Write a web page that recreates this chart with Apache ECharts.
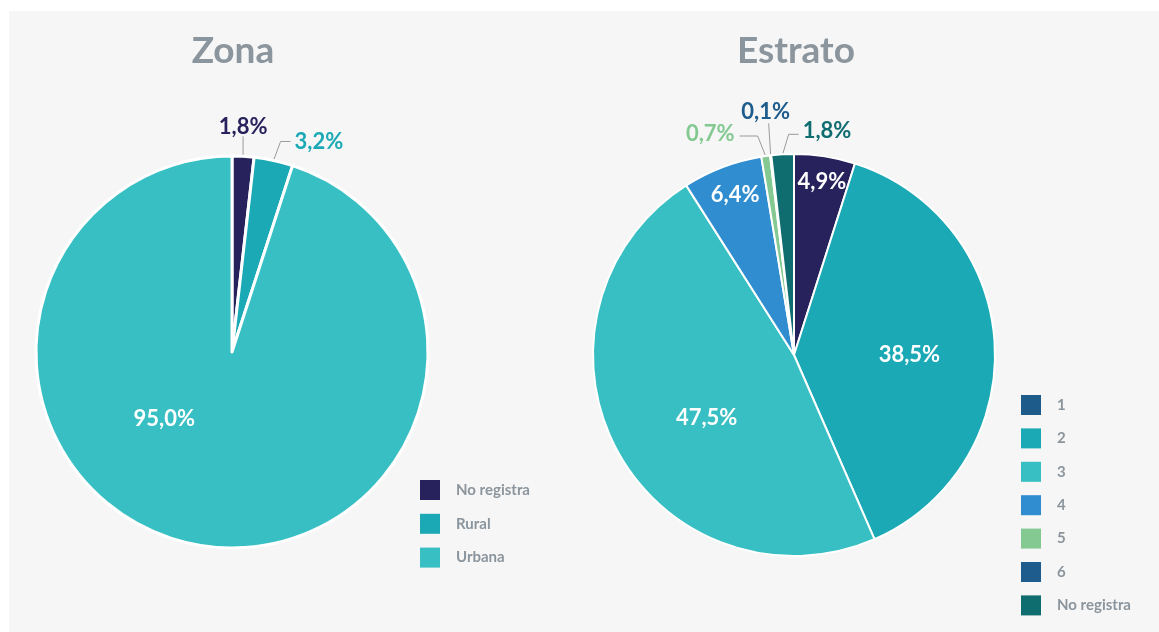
<!DOCTYPE html>
<html>

<head>
    <meta charset="UTF-8">
    <style type="text/css">
        body {
            margin: 0;
            background: #ffffff;
        }

        .panel {
            position: absolute;
            left: 9px;
            top: 11px;
            right: 0;
            bottom: 0;
            background-color: #f6f6f6;
        }

        #chart {
            position: absolute;
            left: 0;
            top: 0;
            width: 1159px;
            height: 632px;
        }
    </style>
</head>

<body>
    <div class="panel"></div>
    <div id="chart"></div>
    <script src="https://cdn.jsdelivr.net/npm/echarts@6/dist/echarts.min.js"></script>
    <script type="text/javascript">
        'use strict';
        // Zona
        var zonaNames = ['No registra', 'Rural', 'Urbana'];
        var zonaValues = [1.8, 3.2, 95.0];
        var zonaColors = ['#27225c', '#1aa9b5', '#37bfc3'];

        // Estrato
        var estratoNames = ['1', '2', '3', '4', '5', '6', 'No registra'];
        var estratoValues = [4.9, 38.5, 47.5, 6.4, 0.7, 0.1, 1.8];
        var estratoColors = ['#27225c', '#1aa9b5', '#37bfc3', '#2f8dd0', '#84c991', '#1d5c8c', '#0f6d70'];
        var estratoLegendColors = ['#1d5b8b', '#1aa9b5', '#37bfc3', '#2f8dd0', '#84c991', '#1d5c8c', '#0f6d70'];

        var FONT = 'Lato, "Open Sans", sans-serif';
        var GREY = '#8b959d';

        function pct(v) {
            return v.toFixed(1).replace('.', ',') + '%';
        }

        function buildData(names, values, colors, outside) {
            return names.map(function (n, i) {
                var isOut = outside.indexOf(i) >= 0;
                return {
                    name: n,
                    value: values[i],
                    itemStyle: { color: colors[i] },
                    label: isOut ? {
                        position: 'outside',
                        color: colors[i]
                    } : {
                        position: 'inside',
                        color: '#ffffff'
                    }
                };
            });
        }

        // how each label is moved from the library's default place
        var zonaInsideShift = { 2: [-52, -33] };
        var estratoInsideShift = { 0: [12, -71], 1: [12, 5], 2: [4, 14], 3: [-22, -63] };

        // outside label guide: [elbow dx, elbow dy, end dx, label dx, label dy, align]
        var zonaGuides = {
            0: [0, -20, 0, 0, -29, 'center'],
            1: [7, -19, 17, 21, -19, 'left']
        };
        var estratoGuides = {
            4: [-8, -20, -26, -31, -22, 'right'],
            5: [-2, -32, -2, -5, -43, 'center'],
            6: [6, -20, 16, 20, -23, 'left']
        };

        function makeLayout(insideShift, guides) {
            return function (params) {
                var i = params.dataIndex;
                if (insideShift[i]) {
                    return { dx: insideShift[i][0], dy: insideShift[i][1] };
                }
                var g = guides[i];
                if (g && params.labelLinePoints) {
                    var s = params.labelLinePoints[0];
                    return {
                        x: s[0] + g[3],
                        y: s[1] + g[4],
                        align: g[5],
                        verticalAlign: 'middle',
                        labelLinePoints: [
                            [s[0], s[1]],
                            [s[0] + g[0], s[1] + g[1]],
                            [s[0] + g[2], s[1] + g[1]]
                        ]
                    };
                }
                return {};
            };
        }

        var labelBase = {
            show: true,
            fontFamily: FONT,
            fontWeight: 'bold',
            fontSize: 22,
            formatter: function (p) { return pct(p.value); }
        };

        var legendBase = {
            orient: 'vertical',
            icon: 'rect',
            padding: 0,
            itemWidth: 20,
            itemHeight: 20,
            itemGap: 13.5,
            selectedMode: false,
            itemStyle: { borderWidth: 0 },
            textStyle: {
                fontFamily: FONT, fontWeight: 'bold', fontSize: 15, color: GREY,
                lineHeight: 20, padding: [0, 0, 0, 11]
            }
        };

        var chart = echarts.init(document.getElementById('chart'), null, { renderer: 'canvas' });
        chart.setOption({
            backgroundColor: 'transparent',
            animation: false,
            title: [{
                text: 'Zona',
                left: 228,
                top: 28,
                textAlign: 'center',
                textStyle: { fontFamily: FONT, fontWeight: 'bold', fontSize: 37, color: GREY }
            }, {
                text: 'Estrato',
                left: 791,
                top: 28,
                textAlign: 'center',
                textStyle: { fontFamily: FONT, fontWeight: 'bold', fontSize: 37, color: GREY }
            }],
            legend: [echarts.util.merge({
                left: 420,
                top: 480,
                height: 120,
                itemGap: 13.8,
                data: zonaNames.map(function (n, i) {
                    return { name: n, itemStyle: { color: zonaColors[i] } };
                })
            }, legendBase), echarts.util.merge({
                left: 1021,
                top: 395,
                height: 236,
                itemGap: 13.4,
                data: estratoNames.map(function (n, i) {
                    return { name: n, itemStyle: { color: estratoLegendColors[i] } };
                })
            }, legendBase)],
            series: [{
                type: 'pie',
                center: [232, 352],
                radius: [0, 196],
                startAngle: 90,
                clockwise: true,
                avoidLabelOverlap: false,
                itemStyle: { borderColor: '#ffffff', borderWidth: 3 },
                label: labelBase,
                labelLine: { show: true, length: 12, length2: 10, lineStyle: { color: '#9a9a9a', width: 1 } },
                labelLayout: makeLayout(zonaInsideShift, zonaGuides),
                emphasis: { disabled: true },
                data: buildData(zonaNames, zonaValues, zonaColors, [0, 1])
            }, {
                type: 'pie',
                center: [794, 355],
                radius: [0, 201],
                startAngle: 90,
                clockwise: true,
                avoidLabelOverlap: false,
                itemStyle: { borderColor: '#ffffff', borderWidth: 2 },
                label: labelBase,
                labelLine: { show: true, length: 12, length2: 10, lineStyle: { color: '#9a9a9a', width: 1 } },
                labelLayout: makeLayout(estratoInsideShift, estratoGuides),
                emphasis: { disabled: true },
                data: buildData(estratoNames, estratoValues, estratoColors, [4, 5, 6])
            }]
        });
    </script>
</body>

</html>
